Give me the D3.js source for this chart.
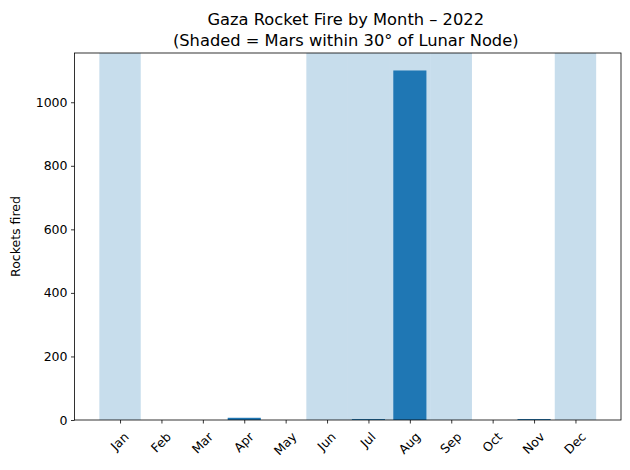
<!DOCTYPE html>
<html><head><meta charset="utf-8">
<script src="https://cdn.jsdelivr.net/npm/d3@7"></script>
<style>body{margin:0;background:#fff}svg{display:block;font-family:"DejaVu Sans",sans-serif}</style>
</head><body>
<script>
const months = ["Jan","Feb","Mar","Apr","May","Jun","Jul","Aug","Sep","Oct","Nov","Dec"];
const rockets = [0,0,0,7,0,0,3,1100,0,0,3,0];
const shaded = [true,false,false,false,false,true,true,true,true,false,false,true];
const yTicks = [0,200,400,600,800,1000];
const titleLines = ["Gaza Rocket Fire by Month \u2013 2022","(Shaded = Mars within 30\u00b0 of Lunar Node)"];
const yLabel = "Rockets fired";

const W=630,H=470;
const L=74.5,R=621,T=53,B=420;
const svg=d3.select("body").append("svg").attr("width",W).attr("height",H);
const x=d3.scaleLinear().domain([-1.1,12.1]).range([L,R]);
const y=d3.scaleLinear().domain([0,1155]).range([B,T]);

// shading
svg.append("g").selectAll("rect").data(months.map((m,i)=>({m,i,s:shaded[i]})).filter(d=>d.s))
 .join("rect").attr("x",d=>x(d.i-0.5)).attr("width",d=>x(d.i+0.5)-x(d.i-0.5))
 .attr("y",T).attr("height",B-T).attr("fill","#1f77b4").attr("fill-opacity",0.25);

// bars
svg.append("g").selectAll("rect").data(rockets.map((v,i)=>({v,i})))
 .join("rect").attr("x",d=>x(d.i-0.4)).attr("width",d=>x(d.i+0.4)-x(d.i-0.4))
 .attr("y",d=>y(d.v)).attr("height",d=>B-y(d.v)).attr("fill","#1f77b4");

// y axis
const ya=svg.append("g").attr("transform",`translate(${L},0)`)
 .call(d3.axisLeft(y).tickValues(yTicks).tickSize(3.5).tickPadding(3.5).tickFormat(d3.format("d")));
ya.select(".domain").remove();
ya.selectAll("text").attr("font-size",12.5).attr("font-family","DejaVu Sans").attr("fill","#000");
ya.selectAll("line").attr("stroke","#000").attr("stroke-width",0.8);

// x axis
const xa=svg.append("g").attr("transform",`translate(0,${B})`)
 .call(d3.axisBottom(x).tickValues(d3.range(12)).tickSize(3.5).tickPadding(3.5).tickFormat(i=>months[i]));
xa.select(".domain").remove();
xa.selectAll("line").attr("stroke","#000").attr("stroke-width",0.8);
xa.selectAll("text").attr("font-size",12.5).attr("font-family","DejaVu Sans").attr("fill","#000")
 .each(function(){
   const t=d3.select(this);
   const w=this.getComputedTextLength(), h=12.5*1.0;
   const half=(w+h)*Math.SQRT1_2/2;
   t.attr("y",null).attr("dy",null).attr("text-anchor","middle").attr("dominant-baseline","central")
    .attr("transform",`translate(-1,${10+half}) rotate(-45)`);
 });

// frame
svg.append("rect").attr("x",L).attr("y",T).attr("width",R-L).attr("height",B-T)
 .attr("fill","none").attr("stroke","#000").attr("stroke-width",0.8);

// title
svg.append("text").attr("x",(L+R)/2-2).attr("y",25).attr("text-anchor","middle").attr("font-size",16.3).text(titleLines[0]);
svg.append("text").attr("x",(L+R)/2-2).attr("y",46).attr("text-anchor","middle").attr("font-size",16.3).text(titleLines[1]);

// y label
svg.append("text").attr("transform",`translate(20,${(T+B)/2}) rotate(-90)`).attr("text-anchor","middle")
 .attr("font-size",12.5).text(yLabel);
</script>
</body></html>
